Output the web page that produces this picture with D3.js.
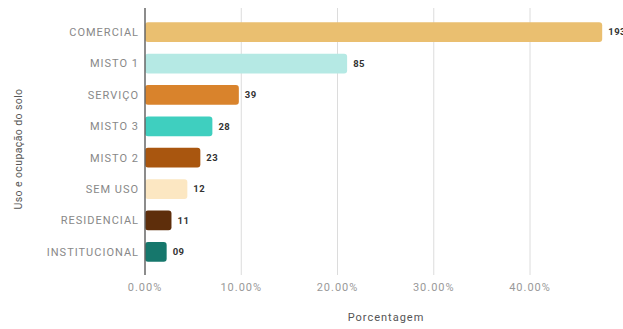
<!DOCTYPE html>
<html><head><meta charset="utf-8">
<script src="https://cdn.jsdelivr.net/npm/d3@7"></script>
<style>html,body{margin:0;padding:0;background:#fff;}svg{display:block;font-family:Roboto,"Noto Sans",sans-serif;}</style>
</head><body>
<script>
const categories = ["COMERCIAL","MISTO 1","SERVIÇO","MISTO 3","MISTO 2","SEM USO","RESIDENCIAL","INSTITUCIONAL"];
const percentages = [47.5, 21.0, 9.75, 7.0, 5.75, 4.4, 2.75, 2.25];
const valueLabels = ["193","85","39","28","23","12","11","09"];
const colors = ["#EABF70","#B5E9E4","#D9832C","#3FCFBF","#A9560F","#FCE7C2","#5E2E0B","#16776C"];
const xTicks = [0, 10, 20, 30, 40];

const W = 623, H = 329;
const x0 = 145, pxPer10 = 96.25;
const x = d3.scaleLinear().domain([0, 10]).range([x0, x0 + pxPer10]);
const y = d3.scaleBand().domain(categories).range([16, 268]).paddingInner(0.37).paddingOuter(0.2);

const svg = d3.select("body").append("svg").attr("width", W).attr("height", H);

// gridlines
svg.append("g").selectAll("line").data(xTicks.filter(t => t > 0)).join("line")
  .attr("x1", d => x(d)).attr("x2", d => x(d)).attr("y1", 8).attr("y2", 275)
  .attr("stroke", "#dcdcdc").attr("stroke-width", 1);

// bars
svg.append("g").selectAll("rect").data(categories).join("rect")
  .attr("x", x(0)).attr("y", d => y(d))
  .attr("width", (d, i) => x(percentages[i]) - x(0))
  .attr("height", y.bandwidth())
  .attr("rx", 3).attr("fill", (d, i) => colors[i]);

// zero axis line
svg.append("line").attr("x1", x(0)).attr("x2", x(0)).attr("y1", 8).attr("y2", 275)
  .attr("stroke", "#666").attr("stroke-width", 1.5);

// value labels
svg.append("g").selectAll("text").data(categories).join("text")
  .attr("x", (d, i) => x(percentages[i]) + 6)
  .attr("y", d => y(d) + y.bandwidth() / 2)
  .attr("dy", "0.35em")
  .attr("font-size", 9.5).attr("font-weight", "bold").attr("fill", "#333")
  .attr("letter-spacing", 0.5)
  .text((d, i) => valueLabels[i]);

// category labels
svg.append("g").selectAll("text").data(categories).join("text")
  .attr("x", 139).attr("y", d => y(d) + y.bandwidth() / 2)
  .attr("dy", "0.35em").attr("text-anchor", "end")
  .attr("font-size", 11).attr("letter-spacing", 1).attr("fill", "#888")
  .text(d => d);

// x tick labels
svg.append("g").selectAll("text").data(xTicks).join("text")
  .attr("x", d => x(d)).attr("y", 291).attr("text-anchor", "middle")
  .attr("font-size", 11).attr("letter-spacing", 1).attr("fill", "#999")
  .text(d => d3.format(".2f")(d) + "%");

// axis titles
svg.append("text").attr("x", 386).attr("y", 321).attr("text-anchor", "middle")
  .attr("font-size", 11).attr("letter-spacing", 1).attr("fill", "#555").text("Porcentagem");
svg.append("text").attr("transform", "translate(18,149) rotate(-90)")
  .attr("text-anchor", "middle").attr("dy", "0.35em")
  .attr("font-size", 10.5).attr("letter-spacing", 0.4).attr("fill", "#555").text("Uso e ocupação do solo");
</script>
</body></html>
